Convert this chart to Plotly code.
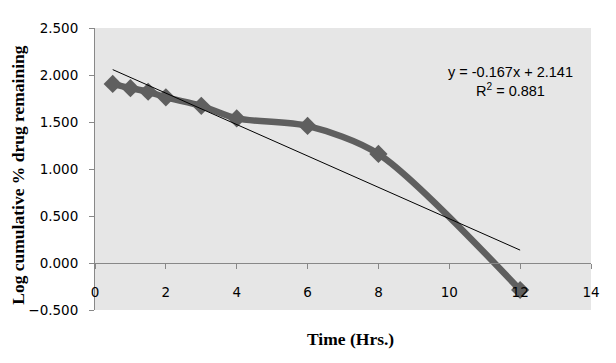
import plotly.graph_objects as go

time_hrs = [0.5, 1, 1.5, 2, 3, 4, 6, 8, 12]
log_remaining = [1.905, 1.860, 1.822, 1.762, 1.672, 1.538, 1.458, 1.160, -0.287]

slope = -0.167
intercept = 2.141
r_squared = 0.881

x_ticks = [0, 2, 4, 6, 8, 10, 12, 14]
y_ticks = [-0.5, 0.0, 0.5, 1.0, 1.5, 2.0, 2.5]

trend_x = [min(time_hrs), max(time_hrs)]
trend_y = [slope * x + intercept for x in trend_x]

fig = go.Figure()
fig.add_trace(go.Scatter(
    x=time_hrs, y=log_remaining, mode="lines+markers",
    line=dict(color="#5f5f5f", width=6.5, shape="spline", smoothing=0.8),
    marker=dict(symbol="diamond", size=14, color="#5f5f5f"),
    showlegend=False, hoverinfo="skip"))
fig.add_trace(go.Scatter(
    x=trend_x, y=trend_y, mode="lines",
    line=dict(color="black", width=1),
    showlegend=False, hoverinfo="skip"))

tick_font = dict(family="DejaVu Sans, Verdana, sans-serif", size=13.5, color="black")
serif_bold = dict(family="Liberation Serif, Times New Roman, serif", size=17.5, color="black")

fig.update_layout(
    width=616, height=363,
    margin=dict(l=95, r=25, t=28, b=53),
    paper_bgcolor="white", plot_bgcolor="#e6e6e6",
    font=dict(family="Liberation Sans, Arial, sans-serif", size=13, color="black"),
    xaxis=dict(range=[0, 14], tickvals=x_ticks, ticktext=[str(v) for v in x_ticks],
               anchor="free", position=1/6, showline=True, linecolor="#888888", linewidth=1,
               ticks="outside", ticklen=5, tickcolor="#888888", showgrid=False, zeroline=False,
               tickfont=tick_font, ticklabelstandoff=12),
    yaxis=dict(range=[-0.5, 2.5], tickvals=y_ticks, tickformat=".3f",
               showline=True, linecolor="#888888", linewidth=1,
               ticks="outside", ticklen=5, tickcolor="#888888", showgrid=False, zeroline=False,
               tickfont=tick_font, ticklabelstandoff=8),
    annotations=[
        dict(text="<b>Log cumulative % drug remaining</b>", textangle=-90, xref="paper", yref="paper",
             x=-0.155, y=0.48, xanchor="center", yanchor="middle", showarrow=False,
             font=serif_bold),
        dict(text="<b>Time (Hrs.)</b>", xref="paper", yref="paper", x=0.515, y=-0.103,
             xanchor="center", yanchor="middle", showarrow=False,
             font=serif_bold),
        dict(text=f"y = {slope:.3f}x + {intercept:.3f}<br>R<sup>2</sup> = {r_squared:.3f}",
             xref="paper", yref="paper", x=0.838, y=0.81, xanchor="center", yanchor="middle",
             showarrow=False, align="center",
             font=dict(family="Liberation Sans, Arial, sans-serif", size=14.5, color="black")),
    ],
)
fig.write_html("out.html", config={"displayModeBar": False},
               post_script="document.body.style.margin='0px';")
